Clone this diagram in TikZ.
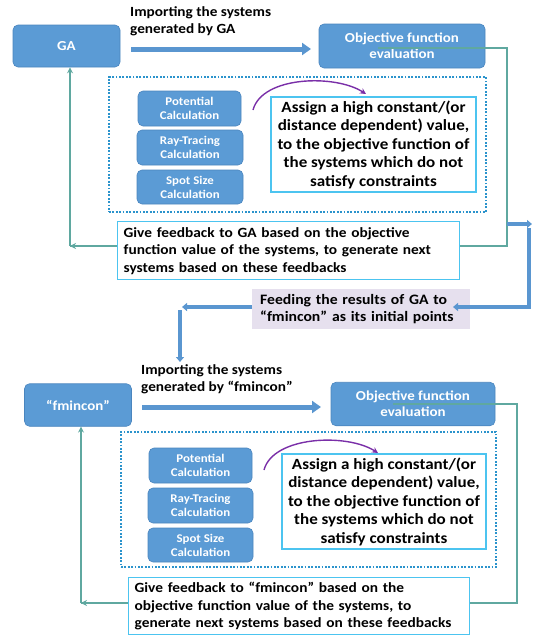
\documentclass[tikz,border=0pt]{standalone}
\usepackage{fontspec}
\setmainfont{Carlito}[FakeStretch=1.09]
\usetikzlibrary{arrows.meta}
\definecolor{boxblue}{HTML}{5B9BD5}
\definecolor{boxedge}{HTML}{4A85BE}
\definecolor{tealline}{HTML}{5FA8A0}
\definecolor{dotblue}{HTML}{2B93CC}
\definecolor{cyanedge}{HTML}{4CC4F0}
\definecolor{lav}{HTML}{E6E0EE}
\definecolor{purp}{HTML}{7A2FA8}
\definecolor{arrowblue}{HTML}{5A96D0}
\begin{document}
\begin{tikzpicture}[x=1pt,y=-1pt,
  bluebox/.style={draw=boxedge, line width=0.6pt, fill=boxblue, rounded corners=5pt, text=white,
    font=\bfseries\fontsize{13.7}{16.4}\selectfont, align=center, inner sep=0pt},
  smallbox/.style={bluebox, font=\bfseries\fontsize{11.8}{14}\selectfont},
  notebox/.style={draw=cyanedge, line width=1.3pt, fill=white, inner sep=0pt,
    font=\bfseries\fontsize{15.6}{18.5}\selectfont, align=center},
  fbbox/.style={draw=cyanedge, line width=1.3pt, fill=white, inner xsep=6pt, inner ysep=0pt,
    font=\bfseries\fontsize{14.1}{17.5}\selectfont, align=left},
  plaintext/.style={inner sep=0pt, align=left, font=\bfseries\fontsize{14}{17.5}\selectfont},
  dotbox/.style={draw=dotblue, line width=1.7pt, dash pattern=on 1.8pt off 1.6pt, inner sep=0pt},
  tealconn/.style={draw=tealline, line width=1.5pt},
  tealarrow/.style={tealconn, -{Stealth[length=6pt,width=6pt]}},
  bigarrow/.style={draw=arrowblue, line width=5pt, -{Triangle[length=9pt,width=12pt]}},
  blueconn/.style={draw=arrowblue, line width=3.5pt, -{Triangle[length=5pt,width=8pt]}},
  purparrow/.style={draw=purp, line width=1.4pt, -{Stealth[length=6pt,width=6pt]}}
]
\useasboundingbox (0,0) rectangle (533,635);

% ---------- top part ----------
\node[bluebox, minimum width=107, minimum height=42] (ga) at (66.5,46) {GA};
\node[bluebox, minimum width=166, minimum height=44] (obj1) at (402,46) {Objective function\\evaluation};
\node[plaintext, anchor=north west] (imp1) at (130,6) {Importing the systems\\generated by GA};
\coordinate (a1s) at (131,49);
\coordinate (a1e) at (311,49);
\draw[bigarrow] (a1s) -- (a1e);

\node[dotbox, minimum width=377, minimum height=135] (grp1) at (297.5,144.5) {};
\node[smallbox, minimum width=103, minimum height=35] (pot1) at (189.5,108.5) {Potential\\Calculation};
\node[smallbox, minimum width=106, minimum height=35] (ray1) at (190,147.5) {Ray-Tracing\\Calculation};
\node[smallbox, minimum width=106, minimum height=34] (spot1) at (190,187) {Spot Size\\Calculation};
\node[notebox, minimum width=205, minimum height=95] (as1) at (373.5,144.5) {Assign a high constant/(or\\distance dependent) value,\\to the objective function of\\the systems which do not\\satisfy constraints};
\coordinate (p1s) at (253,110);
\coordinate (p1e) at (366,94);
\draw[purparrow] (p1s) .. controls (262,76) and (335,74) .. (p1e);

% teal feedback loop (top)
\coordinate (t1s) at (378,48);
\coordinate (t1a) at (507,48);
\coordinate (t1b) at (70,246);
\draw[tealconn] (t1s) -- (t1a) |- (t1b);
\draw[tealarrow] (t1a |- t1b) -- (t1b);
\draw[tealarrow] (t1b) -- (t1b |- ga.south);

\node[fbbox, text width=330, minimum height=58, anchor=north west] (fb1) at (117,221) {Give feedback to GA based on the objective\\function value of the systems, to generate next\\systems based on these feedbacks};

% ---------- middle transfer ----------
\node[fill=lav, inner xsep=8pt, inner ysep=0pt, minimum height=40, text width=202, align=left,
  font=\bfseries\fontsize{14.4}{17.5}\selectfont, anchor=north west] (feed) at (252,289) {Feeding the results of GA to\\“fmincon” as its initial points};
\coordinate (r1) at (507,224);
\coordinate (r2) at (532,224);
\coordinate (r3) at (529,228);
\coordinate (r4) at (529,307);
\coordinate (r5) at (453,307);
\draw[blueconn] (r1) -- (r2);
\draw[blueconn] (r3) -- (r4) -- (r5);
\coordinate (l1) at (182,307);
\coordinate (l2) at (180,310);
\coordinate (l3) at (180,362);
\draw[blueconn] (feed.west |- l1) -- (l1);
\draw[blueconn] (l2) -- (l3);

% ---------- bottom part ----------
\node[bluebox, minimum width=107, minimum height=42.5] (fm) at (78,405) {“fmincon”};
\node[bluebox, minimum width=164, minimum height=43.5] (obj2) at (413,404) {Objective function\\evaluation};
\node[plaintext, anchor=north west] (imp2) at (141,364) {Importing the systems\\generated by “fmincon”};
\coordinate (a2s) at (142,407);
\coordinate (a2e) at (321,407);
\draw[bigarrow] (a2s) -- (a2e);

\node[dotbox, minimum width=375, minimum height=135] (grp2) at (308.5,499.5) {};
\node[smallbox, minimum width=103, minimum height=35] (pot2) at (200.5,465.5) {Potential\\Calculation};
\node[smallbox, minimum width=105, minimum height=35] (ray2) at (200.5,505.5) {Ray-Tracing\\Calculation};
\node[smallbox, minimum width=105, minimum height=34] (spot2) at (200.5,545) {Spot Size\\Calculation};
\node[notebox, minimum width=204, minimum height=95] (as2) at (384,501.5) {Assign a high constant/(or\\distance dependent) value,\\to the objective function of\\the systems which do not\\satisfy constraints};
\coordinate (p2s) at (264,470);
\coordinate (p2e) at (378,453);
\draw[purparrow] (p2s) .. controls (273,436) and (347,433) .. (p2e);

% teal feedback loop (bottom)
\coordinate (t2s) at (393,404);
\coordinate (t2a) at (517,404);
\coordinate (t2b) at (81,603);
\draw[tealconn] (t2s) -- (t2a) |- (t2b);
\draw[tealarrow] (t2a |- t2b) -- (t2b);
\draw[tealarrow] (t2b) -- (t2b |- fm.south);

\node[fbbox, text width=329, minimum height=57, anchor=north west] (fb2) at (128,577) {Give feedback to “fmincon” based on the\\objective function value of the systems, to\\generate next systems based on these feedbacks};
\end{tikzpicture}
\end{document}
